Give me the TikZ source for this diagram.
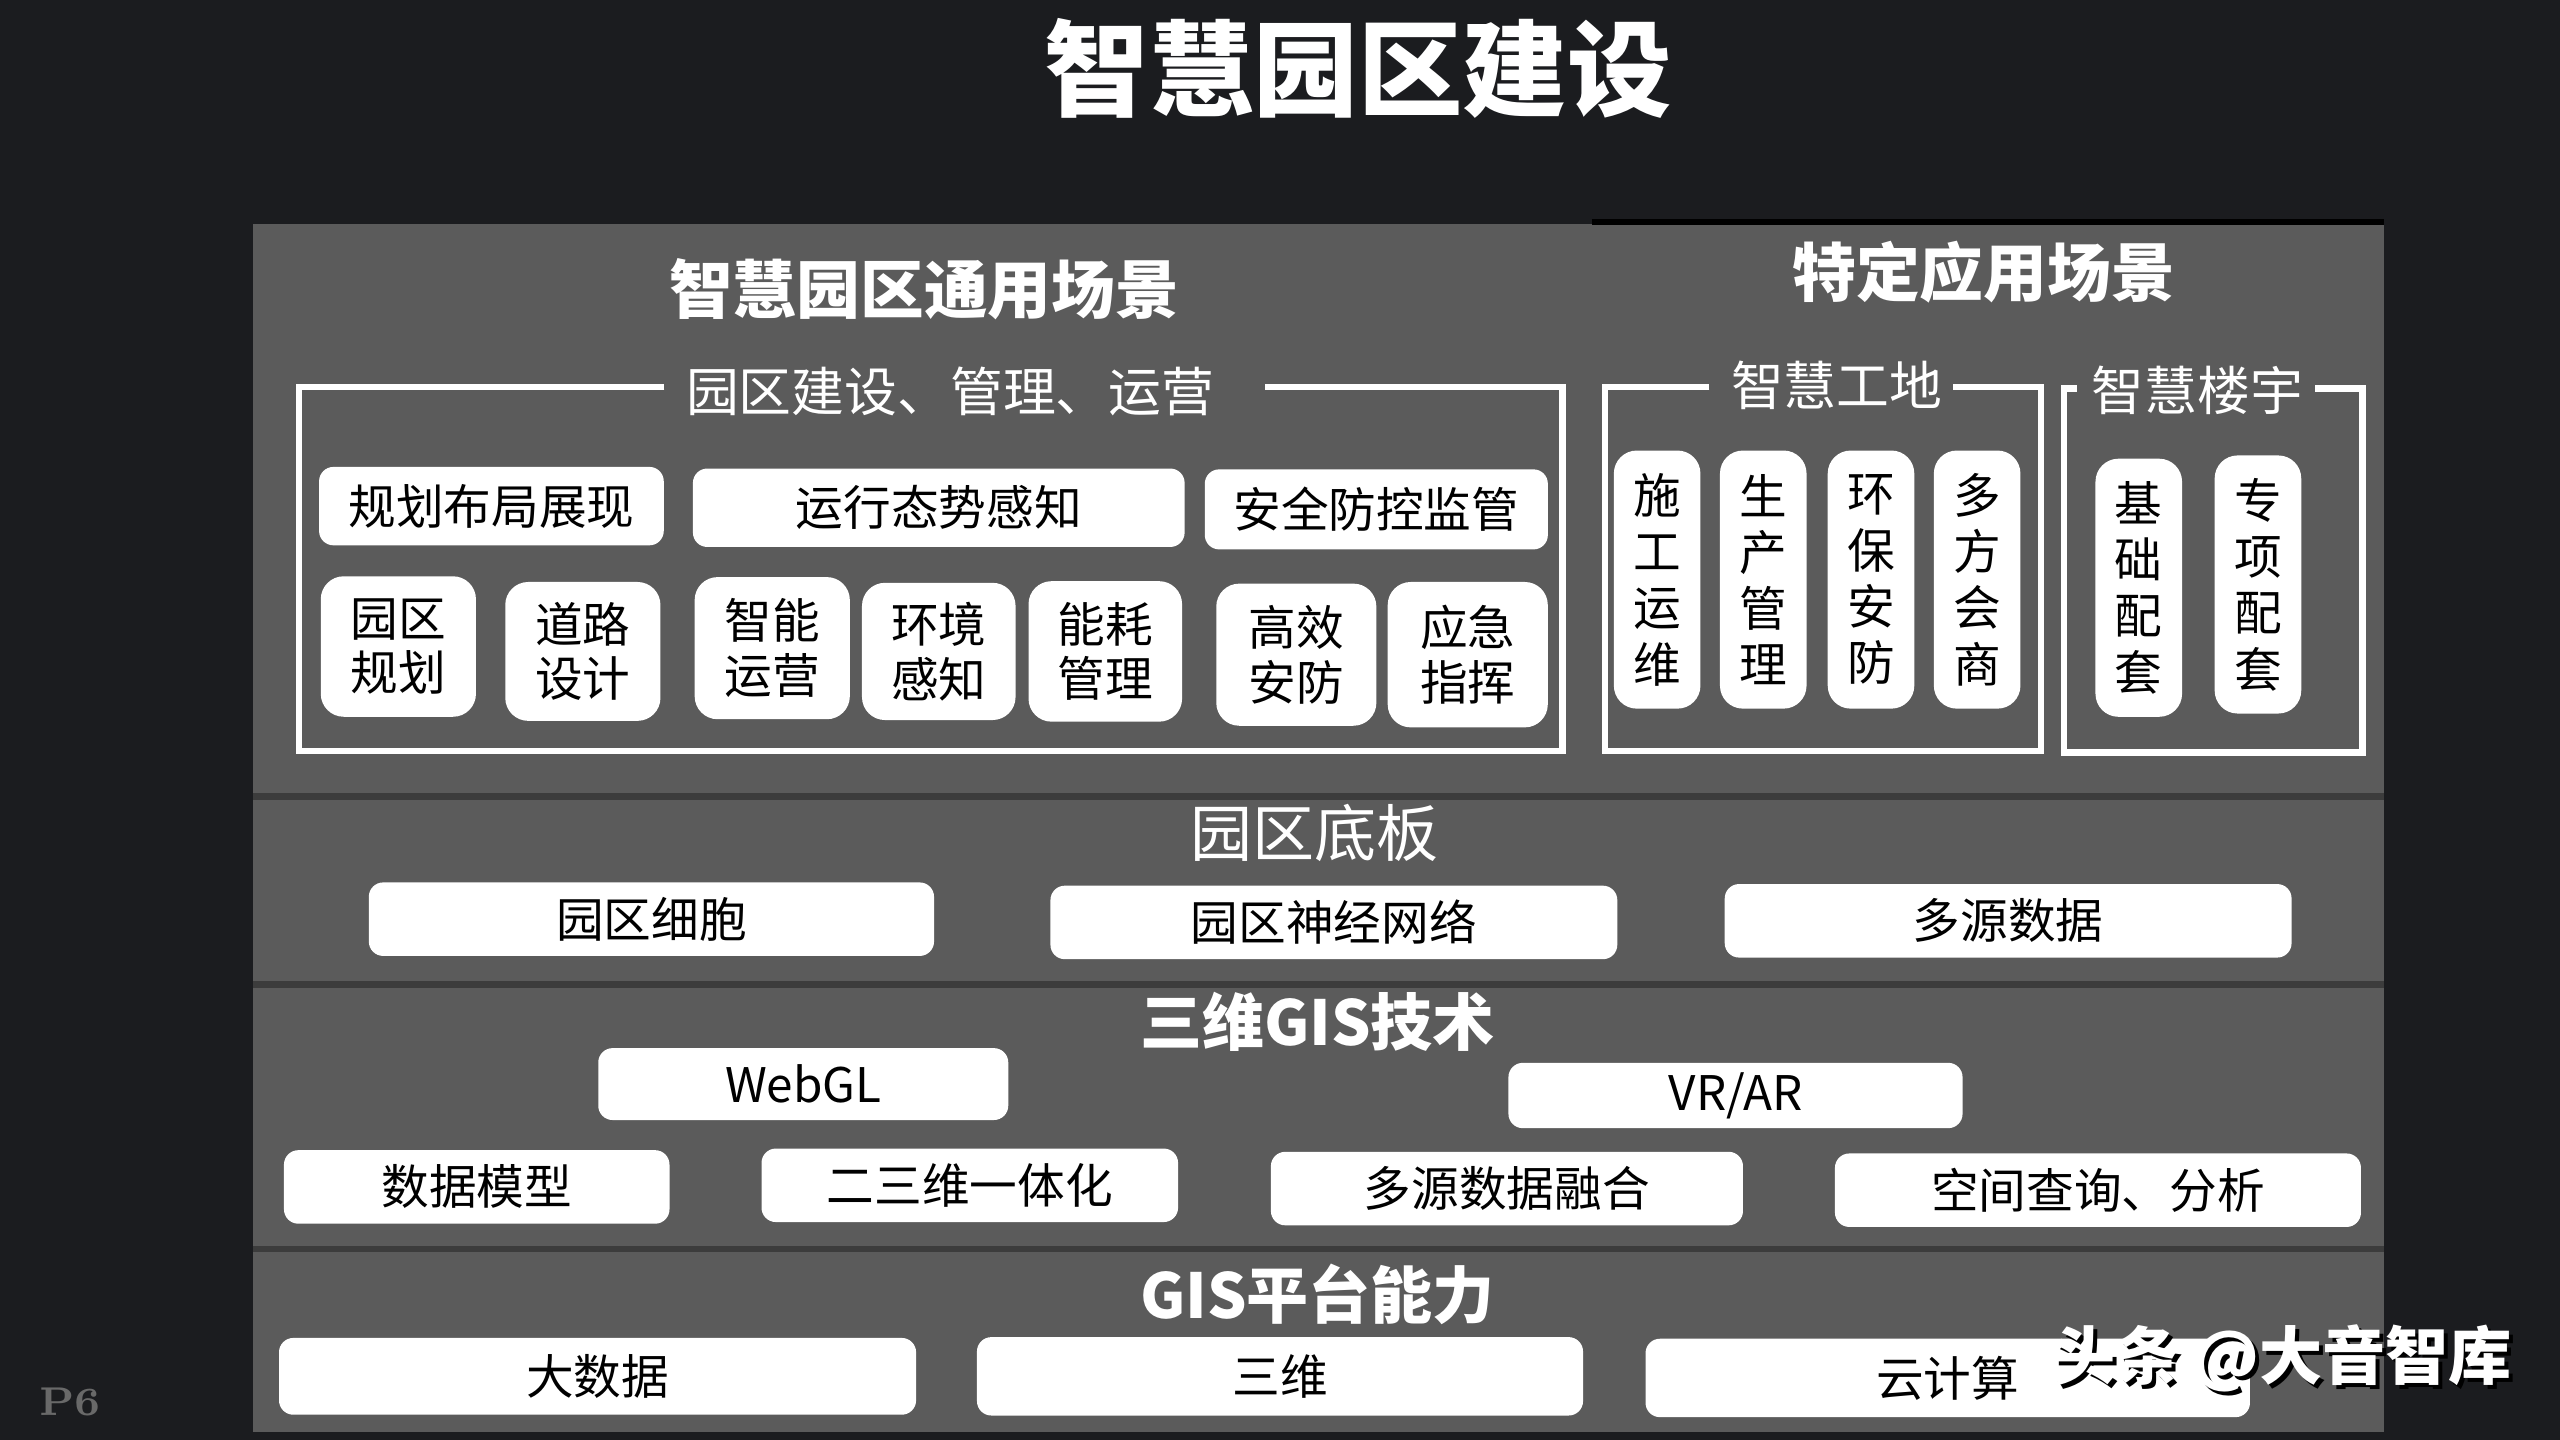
\documentclass[tikz,border=0pt]{standalone}
\usepackage{fontspec}
\newfontfamily\cjk{Noto Sans CJK SC}
\usetikzlibrary{positioning}
\definecolor{backdark}{RGB}{27,28,31}
\definecolor{panelgray}{RGB}{91,91,91}
\definecolor{seamgray}{RGB}{60,60,60}
\definecolor{pagegray}{RGB}{105,105,105}
\newcommand\dropshade[1]{\rlap{\kern0.7pt\raisebox{-0.7pt}{\textcolor{black}{#1}}}#1}

\tikzset{
  card/.style={fill=white, text=black, rounded corners=2.5pt, inner sep=0pt,
    font=\cjk\fontsize{8.3}{9.5}\selectfont, align=center},
  tallcard/.style={card, rounded corners=4pt},
  pillar/.style={card, rounded corners=4pt, minimum width=0.53cm, minimum height=1.58cm,
    font=\cjk\fontsize{8.3}{9.8}\selectfont},
  frame/.style={draw=white, line width=1.1pt},
  heading/.style={text=white, font=\cjk\bfseries\fontsize{11.1}{13}\selectfont},
  tag/.style={text=white, font=\cjk\fontsize{9.2}{11}\selectfont},
  seam/.style={draw=seamgray, line width=1.2pt}
}

\begin{document}
\begin{tikzpicture}[x=0.01cm,y=-0.01cm]
\useasboundingbox (0,0) rectangle (1568,882);
\fill[backdark] (0,0) rectangle (1568,882);

% title
\node[text=white, font=\cjk\bfseries\fontsize{18.2}{20}\selectfont] (title) at (832,42) {智慧园区建设};

% panels
\fill[panelgray] (155,137) rectangle (1460,877);
\draw[black, line width=1.2pt] (975,136) -- (1460,136);
\draw[seam] (155,488) -- (1460,488);
\draw[seam] (155,603) -- (1460,603);
\draw[seam] (155,765) -- (1460,765);

%% scenes
\node[heading] (general) at (566,177) {智慧园区通用场景};
\node[heading] (special) at (1215,167) {特定应用场景};

\draw[frame] (407,237) -| (183,460) -| (957,237) -- (775,237);
\node[tag] (ops) at (582,240) {园区建设、管理、运营};
\draw[frame] (1047,237) -| (983,460) -| (1250,237) -- (1196,237);
\node[tag] (site) at (1125,236) {智慧工地};
\draw[frame] (1272,238) -| (1264,461) -| (1447,238) -- (1418,238);
\node[tag] (tower) at (1346,239) {智慧楼宇};

\node[card, minimum width=2.11cm, minimum height=0.48cm] (layout) at (301,310) {规划布局展现};
\node[card, minimum width=3.01cm, minimum height=0.48cm] (sense) at (575,311) {运行态势感知};
\node[card, minimum width=2.10cm, minimum height=0.49cm] (guard) at (843,312) {安全防控监管};

\node[tallcard, minimum width=0.95cm, minimum height=0.86cm] (plan) at (244,396) {园区\\规划};
\node[tallcard, minimum width=0.95cm, minimum height=0.85cm] (road) at (357,399) {道路\\设计};
\node[tallcard, minimum width=0.95cm, minimum height=0.87cm] (smart) at (473,397) {智能\\运营};
\node[tallcard, minimum width=0.94cm, minimum height=0.84cm] (env) at (575,399) {环境\\感知};
\node[tallcard, minimum width=0.94cm, minimum height=0.86cm] (energy) at (677,399) {能耗\\管理};
\node[tallcard, minimum width=0.98cm, minimum height=0.87cm] (secure) at (794,401) {高效\\安防};
\node[tallcard, minimum width=0.98cm, minimum height=0.89cm] (urgent) at (899,401) {应急\\指挥};

\node[pillar] (build) at (1015,355) {施\\工\\运\\维};
\node[pillar] (produce) at (1080,355) {生\\产\\管\\理};
\node[pillar] (green) at (1146,355) {环\\保\\安\\防};
\node[pillar] (meet) at (1211,355) {多\\方\\会\\商};
\node[pillar] (basic) at (1310,360) {基\\础\\配\\套};
\node[pillar] (extra) at (1383,358) {专\\项\\配\\套};

%% base board
\node[text=white, font=\cjk\fontsize{10.8}{13}\selectfont] (board) at (805,510) {园区底板};
\node[card, minimum width=3.46cm, minimum height=0.45cm] (cell) at (399,563) {园区细胞};
\node[card, minimum width=3.47cm, minimum height=0.45cm] (nerve) at (817,565) {园区神经网络};
\node[card, minimum width=3.47cm, minimum height=0.45cm] (multi) at (1230,564) {多源数据};

%% 3d gis
\node[heading, font=\cjk\bfseries\fontsize{10.8}{13}\selectfont] (gis3d) at (807,626) {三维GIS技术};
\node[card, minimum width=2.51cm, minimum height=0.44cm] (webgl) at (492,664) {WebGL};
\node[card, minimum width=2.78cm, minimum height=0.40cm] (vrar) at (1063,671) {VR/AR};
\node[card, minimum width=2.36cm, minimum height=0.45cm] (model) at (292,727) {数据模型};
\node[card, minimum width=2.55cm, minimum height=0.45cm] (merge) at (594,726) {二三维一体化};
\node[card, minimum width=2.89cm, minimum height=0.45cm] (fuse) at (923,728) {多源数据融合};
\node[card, minimum width=3.22cm, minimum height=0.45cm] (query) at (1285,729) {空间查询、分析};

%% platform
\node[heading, font=\cjk\bfseries\fontsize{10.8}{13}\selectfont] (platform) at (807,793) {GIS平台能力};
\node[card, minimum width=3.90cm, minimum height=0.47cm] (bigdata) at (366,843) {大数据};
\node[card, minimum width=3.71cm, minimum height=0.48cm] (three) at (784,843) {三维};
\node[card, minimum width=3.70cm, minimum height=0.48cm] (cloud) at (1193,844) {云计算};

% marks
\node[text=white, font=\cjk\bfseries\fontsize{11}{13}\selectfont] (mark) at (1398,833) {\dropshade{头条 @大音智库}};
\node[text=pagegray, font=\rmfamily\bfseries\fontsize{7}{9}\selectfont] (page) at (43,859) {P6};
\end{tikzpicture}
\end{document}
